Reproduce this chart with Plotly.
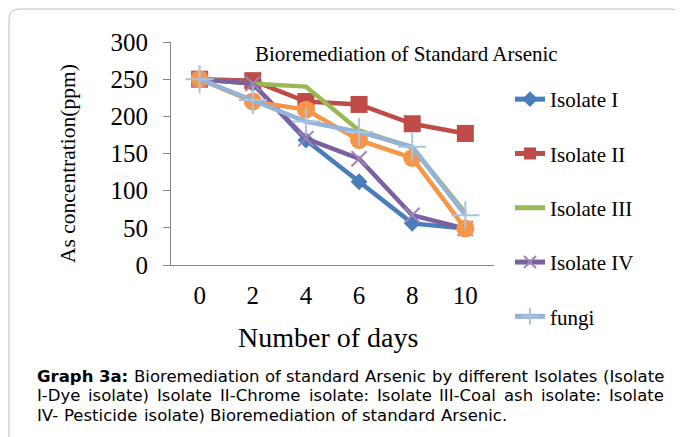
import plotly.graph_objects as go

days = ["0", "2", "4", "6", "8", "10"]
isolate_1 = [250, 244, 168, 112, 56, 49]
isolate_2 = [250, 248, 220, 216, 190, 177]
isolate_3 = [250, 244, 240, 181, 158, 70]
isolate_4 = [250, 244, 170, 143, 67, 49]
isolate_5 = [250, 220, 209, 168, 144, 49]
fungi = [250, 222, 193, 179, 159, 67]

W, H = 683, 437
OFF = 8  # page body margin
# plot area in screen px
PX0, PX1, PY0, PY1 = 171, 494, 42, 265
L, R = PX0 - OFF, W - (PX1 - OFF)
T, B = 2, 2
pw, ph = W - L - R, H - T - B

def sx(x):
    return (x - OFF - L) / pw

def sy(y):
    return 1 - (y - OFF - T) / ph

serif = "Liberation Serif, Times New Roman, serif"
sans = "DejaVu Sans"

fig = go.Figure()
series = [
    ("Isolate I", isolate_1, "#4A7EBB", dict(symbol="diamond", size=13, color="#4A7EBB"), True),
    ("Isolate II", isolate_2, "#BE4B48", dict(symbol="square", size=17, color="#BE4B48"), True),
    ("Isolate III", isolate_3, "#98B954", None, True),
    ("Isolate IV", isolate_4, "#7D60A0", dict(symbol="x-thin", size=15, color="#9A86BA", line=dict(width=2, color="#9A86BA")), True),
    ("Isolate V", isolate_5, "#F79646", dict(symbol="circle", size=18, color="#F79646"), False),
    ("fungi", fungi, "#95B3D7", dict(symbol="cross-thin", size=20, color="#A9C3E3", line=dict(width=2, color="#A9C3E3")), True),
]
for name, vals, col, mk, show in series:
    fig.add_trace(go.Scatter(
        x=days, y=vals, name=name, legendgroup=name, showlegend=show,
        mode="lines+markers" if mk else "lines",
        line=dict(color=col, width=4.5),
        marker=mk if mk else None,
    ))

# chart frame (rounded top corners, continues past the bottom)
r = 10
fig.add_shape(type="path", xref="paper", yref="paper",
              path=(f"M {sx(9)},{sy(470)} L {sx(9)},{sy(9 + r)} Q {sx(9)},{sy(9)} {sx(9 + r)},{sy(9)} "
                    f"L {sx(681 - r)},{sy(9)} Q {sx(681)},{sy(9)} {sx(681)},{sy(9 + r)} L {sx(681)},{sy(470)}"),
              line=dict(color="#BFBFBF", width=1))

ann = [
    dict(x=sx(406), y=sy(54), text="Bioremediation of Standard Arsenic",
         font=dict(family=serif, size=21, color="#000")),
    dict(x=sx(68), y=sy(164), text="As concentration(ppm)", textangle=-90,
         font=dict(family=serif, size=21.5, color="#000")),
    dict(x=sx(328), y=sy(337), text="Number of days",
         font=dict(family=serif, size=28, color="#000")),
]
for a in ann:
    fig.add_annotation(xref="paper", yref="paper", showarrow=False,
                       xanchor="center", yanchor="middle", **a)

# caption, justified like the reference (DejaVu Sans advance widths, per 1000 em)
AW = {' ': 318, '(': 390, ')': 390, '-': 361, '.': 318, ':': 337,
      'A': 684, 'B': 686, 'C': 698, 'D': 770, 'G': 775, 'I': 295, 'P': 603, 'V': 684,
      'a': 613, 'b': 635, 'c': 550, 'd': 635, 'e': 615, 'f': 352, 'g': 635, 'h': 634, 'i': 278,
      'l': 278, 'm': 974, 'n': 634, 'o': 612, 'p': 635, 'r': 411, 's': 521, 't': 392, 'u': 634,
      'y': 592, '3': 636}
ABW = {'G': 818, 'r': 493, 'a': 675, 'p': 716, 'h': 712, ' ': 348, '3': 696, ':': 400}

CAP_SIZE = 16.5
def width(word, bold=False):
    tbl = ABW if bold else AW
    return sum(tbl.get(c, 620) for c in word) * CAP_SIZE / 1000

caption_lines = [
    ["<b>Graph</b>", "<b>3a:</b>", "Bioremediation", "of", "standard", "Arsenic", "by", "different",
     "Isolates", "(Isolate"],
    ["I-Dye", "isolate)", "Isolate", "II-Chrome", "isolate:", "Isolate", "III-Coal", "ash",
     "isolate:", "Isolate"],
    ["IV-", "Pesticide", "isolate)", "Bioremediation", "of", "standard", "Arsenic."],
]
justify = [True, True, False]
line_y = [376, 395.5, 415]
CX0, CX1 = 36, 663
for i, words in enumerate(caption_lines):
    ws = []
    for w in words:
        bold = w.startswith("<b>")
        plain = w.replace("<b>", "").replace("</b>", "")
        ws.append(width(plain, bold))
    if justify[i]:
        gap = (CX1 - CX0 - sum(ws)) / (len(words) - 1)
    else:
        gap = AW[' '] * CAP_SIZE / 1000
    x = CX0
    for w, wd in zip(words, ws):
        fig.add_annotation(xref="paper", yref="paper", showarrow=False,
                           x=sx(x), y=sy(line_y[i]), xanchor="left", yanchor="middle",
                           text=w, font=dict(family=sans, size=CAP_SIZE, color="#000"),
                           borderpad=0)
        x += wd + gap

fig.update_layout(
    width=W, height=H,
    margin=dict(l=L, r=R, t=T, b=B, autoexpand=False),
    paper_bgcolor="white", plot_bgcolor="white",
    font=dict(family=serif, color="#000"),
    showlegend=True,
    legend=dict(x=sx(510), y=sy(79), xanchor="left", yanchor="top",
                font=dict(family=serif, size=21, color="#000"),
                tracegroupgap=24, itemsizing="constant",
                bgcolor="rgba(0,0,0,0)"),
    xaxis=dict(type="category", showgrid=False, showline=True, linecolor="#868686",
               linewidth=1.2, ticks="", tickfont=dict(family=serif, size=25, color="#000"),
               zeroline=False, ticklabelstandoff=8, automargin=False),
    yaxis=dict(range=[0, 300], dtick=50, showgrid=False, showline=True, linecolor="#868686",
               linewidth=1.2, ticks="outside", ticklen=7, tickcolor="#868686",
               tickfont=dict(family=serif, size=25, color="#000"), zeroline=False,
               ticklabelstandoff=10, automargin=False,
               domain=[sy(PY1), sy(PY0)]),
)

fig.write_html("out.html")
